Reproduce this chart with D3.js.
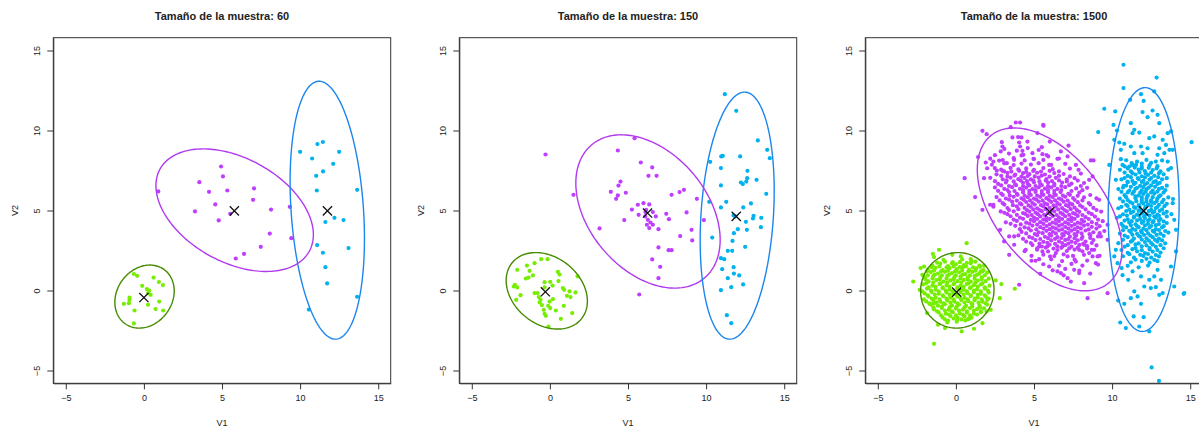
<!DOCTYPE html>
<html><head><meta charset="utf-8">
<script src="https://cdn.jsdelivr.net/npm/d3@7"></script>
<style>
body{margin:0;background:#fff}
svg{display:block}
text{font-family:"Liberation Sans",Arial,sans-serif;fill:#222}
</style>
</head><body>
<svg id="chart" width="1199" height="428"></svg>
<script>
// ---- data ----
const sampleSizes = [60, 150, 1500];
const tickValues = [-5, 0, 5, 10, 15];
const xLabel = "V1", yLabel = "V2";

// sample of 60
const green1 = [[-0.64,1.03],[-0.43,0.92],[0.62,0.81],[0.96,0.53],[1.22,0.34],[-0.11,0.29],[0.19,0.09],[0.34,0.0],[0.43,-0.27],[0.28,-0.16],[-0.92,-0.44],[-0.92,-0.58],[-0.96,-0.79],[-1.28,-0.83],[0.26,-0.89],[0.98,-0.69],[-0.6,-1.25],[0.75,-1.16],[1.24,-1.25],[-0.64,-2.06]];
const purple1 = [[0.92,6.19],[3.55,6.77],[4.94,7.75],[5.06,7.13],[4.17,6.17],[5.34,6.25],[7.05,6.38],[6.99,5.67],[4.57,5.38],[3.27,4.94],[4.79,4.38],[5.53,4.79],[8.14,5.06],[9.34,5.23],[8.06,3.56],[9.44,3.27],[7.48,2.73],[6.41,2.29],[5.88,2.0]];
const blue1 = [[11.11,9.15],[11.46,9.28],[10.0,8.67],[12.5,8.67],[10.77,8.25],[12.12,7.92],[11.47,7.44],[11.03,7.17],[11.07,6.25],[13.65,6.29],[11.62,4.28],[12.2,4.54],[12.78,4.4],[11.09,2.84],[11.46,2.36],[13.1,2.65],[11.62,1.46],[11.73,0.44],[13.65,-0.39],[10.56,-1.19]];
const centers1 = [[0.0,-0.44],[5.79,4.98],[11.75,4.98]];
// ellipse: [cx, cy, half-width, half-height, correlation]
const ellipses1 = [[0.04,-0.38,1.9,1.97,0.18],[5.81,5.02,5.04,3.83,-0.40],[11.74,5.02,2.38,8.06,-0.22]];

// sample of 150
const green2 = [[-0.56,1.96],[-0.15,1.96],[-0.98,1.71],[-1.47,1.56],[-2.09,1.29],[-1.30,1.23],[-1.09,0.94],[-1.54,0.75],[-1.37,0.81],[0.51,1.17],[0.62,1.0],[1.77,0.88],[-0.34,0.52],[0.02,0.54],[0.55,0.59],[0.17,0.31],[-2.24,0.36],[-2.09,0.19],[-2.31,0.25],[-0.34,0.19],[0.83,0.15],[0.91,0.04],[1.26,-0.06],[1.64,-0.12],[1.32,-0.41],[1.09,-0.33],[-1.88,-0.29],[-2.16,-0.58],[-0.79,-0.16],[-0.71,-0.41],[-0.6,-0.58],[-0.66,-0.75],[-0.51,-0.91],[0.19,-0.54],[-0.02,-0.69],[-0.11,-0.96],[0.02,-1.1],[-0.39,-1.21],[-0.34,-1.46],[-0.26,-1.58],[0.38,-1.25],[0.89,-0.96],[0.70,-1.77],[1.43,-1.41],[-0.09,-2.25],[-0.98,-0.16]];
const purple2 = [[5.42,9.52],[4.35,8.75],[5.82,8.0],[6.55,7.69],[6.31,7.17],[6.83,7.17],[4.52,6.81],[4.39,6.56],[3.90,6.17],[4.86,6.11],[4.35,5.94],[4.24,5.73],[1.51,5.98],[7.79,5.98],[8.30,6.15],[8.58,6.29],[9.41,5.73],[5.99,5.46],[5.63,5.36],[6.36,5.38],[5.25,5.06],[5.68,4.73],[6.12,4.90],[6.59,4.90],[6.78,4.63],[7.45,4.79],[7.62,4.46],[8.75,4.88],[4.76,4.40],[6.27,4.42],[6.44,4.25],[6.21,4.11],[6.59,4.11],[6.95,3.83],[6.36,3.90],[3.18,3.88],[8.34,3.40],[9.07,3.79],[9.11,3.13],[9.86,4.40],[6.95,2.69],[7.60,2.52],[7.79,2.52],[6.55,1.94],[7.06,1.48],[6.95,0.77],[5.72,-0.25],[-0.28,8.5],[6.16,5.04],[6.10,4.63]];
const blue2 = [[11.2,12.27],[11.93,11.23],[13.31,9.38],[13.91,8.79],[14.08,8.27],[10.26,8.04],[10.97,8.38],[11.07,8.42],[12.18,8.38],[10.95,7.65],[12.65,7.48],[12.63,7.02],[12.57,6.81],[12.23,6.75],[12.35,6.65],[13.23,6.92],[10.95,6.57],[13.85,6.04],[11.29,5.54],[10.95,5.19],[10.2,5.54],[12.38,5.19],[12.87,5.44],[11.76,4.69],[13.04,4.67],[13.0,4.5],[13.53,4.54],[12.55,4.29],[12.03,3.83],[12.61,3.79],[13.51,3.96],[11.78,3.58],[10.39,3.31],[11.69,3.10],[12.5,2.73],[11.39,2.48],[11.67,2.48],[10.95,2.02],[11.16,1.96],[11.03,1.33],[11.76,1.46],[11.78,1.06],[12.12,0.94],[11.39,0.77],[11.61,0.21],[12.37,0.38],[10.95,0.02],[11.33,-1.54],[11.61,-2.04],[11.86,4.63]];
const centers2 = [[-0.29,-0.08],[6.25,4.84],[11.93,4.63]];
const ellipses2 = [[-0.2,-0.02,2.6,2.39,-0.27],[6.28,4.94,4.62,4.79,-0.37],[11.99,4.68,2.37,7.72,0.2]];

// sample of 1500
const green3 = [[0.69,2.96],[-1.47,2.29],[-1.08,2.54],[-1.40,2.09],[-2.26,1.40],[-2.73,0.56],[-2.32,0.04],[2.91,0.40],[2.81,-0.48],[3.77,0.11],[2.23,-1.21],[-1.85,-1.41],[-1.66,-0.85],[-1.40,-0.79],[0.37,-2.56],[1.16,-2.39],[-1.40,-3.33],[-0.70,-2.35],[-1.15,-2.14],[1.97,-1.31],[2.55,0.63],[1.59,1.19],[1.70,-2.04],[-2.04,1.50],[-2.15,0.98],[1.80,1.54],[2.01,-0.58],[-0.23,2.23],[0.31,2.13],[0.95,1.96],[-0.55,-2.0],[0.09,-1.83],[0.78,-1.79],
[-0.8,1.92],[-0.2,1.78],[0.4,1.95],[1.0,1.83],
[-1.5,1.55],[-1.0,1.68],[-0.5,1.52],[0.0,1.64],[0.5,1.58],[0.95,1.7],[1.5,1.55],
[-1.8,1.3],[-1.3,1.42],[-0.85,1.28],[-0.4,1.4],[0.05,1.33],[0.45,1.45],[0.85,1.3],[1.3,1.38],[1.75,1.27],
[-1.6,1.15],[-1.15,1.05],[-0.7,1.17],[-0.25,1.08],[0.2,1.14],[0.6,1.02],[1.05,1.16],[1.5,1.06],[2.0,1.12],
[-2.0,0.82],[-1.45,0.9],[-1.0,0.8],[-0.55,0.92],[-0.1,0.83],[0.3,0.88],[0.75,0.79],[1.2,0.9],[1.65,0.82],
[-1.75,0.57],[-1.25,0.65],[-0.8,0.55],[-0.35,0.63],[0.1,0.58],[0.5,0.66],[0.95,0.55],[1.4,0.62],[1.9,0.58],
[-2.1,0.38],[-1.5,0.3],[-1.05,0.4],[-0.6,0.32],[-0.15,0.39],[0.3,0.3],[0.7,0.41],[1.15,0.33],[1.6,0.38],[2.15,0.3],
[-1.85,0.12],[-1.3,0.05],[-0.85,0.14],[-0.4,0.06],[0.1,0.13],[0.5,0.04],[0.9,0.15],[1.35,0.07],[1.85,0.12],
[-2.0,-0.18],[-1.55,-0.1],[-1.1,-0.2],[-0.6,-0.12],[-0.15,-0.19],[0.3,-0.1],[0.75,-0.17],[1.15,-0.11],[1.6,-0.2],[2.1,-0.13],
[-1.75,-0.37],[-1.3,-0.45],[-0.8,-0.36],[-0.35,-0.44],[0.1,-0.38],[0.55,-0.46],[0.95,-0.35],[1.4,-0.43],[1.9,-0.38],
[-1.9,-0.68],[-1.45,-0.6],[-1.0,-0.7],[-0.55,-0.62],[-0.1,-0.69],[0.35,-0.6],[0.8,-0.67],[1.2,-0.61],[1.7,-0.7],
[-1.6,-0.87],[-1.15,-0.95],[-0.7,-0.86],[-0.25,-0.94],[0.2,-0.88],[0.65,-0.96],[1.05,-0.85],[1.5,-0.93],[2.0,-0.88],
[-1.4,-1.18],[-0.9,-1.1],[-0.45,-1.2],[0.0,-1.12],[0.45,-1.19],[0.9,-1.1],[1.35,-1.17],[1.8,-1.12],
[-1.1,-1.37],[-0.65,-1.45],[-0.2,-1.36],[0.25,-1.44],[0.7,-1.38],[1.15,-1.45],[1.6,-1.36],
[-0.85,-1.68],[-0.35,-1.6],[0.1,-1.7],[0.55,-1.62],[1.0,-1.69],
[-0.5,-1.88],[0.05,-1.95],[0.6,-1.87],
[-1.2,1.74],[-0.7,1.8],[-0.25,1.7],[0.25,1.77],[0.7,1.73],[1.25,1.8],
[-1.55,1.45],[-1.05,1.5],[-0.6,1.44],[-0.15,1.5],[0.25,1.46],[0.65,1.51],[1.1,1.44],[1.55,1.48],
[-1.85,1.2],[-1.4,1.25],[-0.95,1.2],[-0.5,1.24],[-0.05,1.19],[0.4,1.25],[0.8,1.2],[1.25,1.24],[1.7,1.19],
[-1.8,0.95],[-1.35,1.0],[-0.9,0.94],[-0.45,0.99],[0.0,0.95],[0.45,1.0],[0.9,0.94],[1.35,0.98],[1.85,0.95],
[-1.95,0.7],[-1.5,0.75],[-1.05,0.69],[-0.6,0.74],[-0.15,0.7],[0.3,0.75],[0.75,0.69],[1.2,0.74],[1.65,0.7],[2.1,0.74],
[-1.9,0.45],[-1.45,0.5],[-1.0,0.44],[-0.55,0.49],[-0.1,0.45],[0.35,0.5],[0.8,0.44],[1.25,0.49],[1.7,0.45],
[-1.75,0.2],[-1.3,0.25],[-0.85,0.19],[-0.4,0.24],[0.1,0.2],[0.5,0.25],[0.95,0.19],[1.4,0.24],[1.85,0.2],
[-2.15,-0.05],[-1.6,0.0],[-1.1,-0.06],[-0.65,-0.01],[-0.2,-0.05],[0.3,0.0],[0.7,-0.06],[1.15,-0.01],[1.6,-0.05],[2.05,0.0],
[-1.8,-0.3],[-1.35,-0.25],[-0.85,-0.31],[-0.4,-0.26],[0.05,-0.3],[0.5,-0.25],[0.95,-0.31],[1.4,-0.26],[1.85,-0.3],
[-2.05,-0.55],[-1.55,-0.5],[-1.05,-0.56],[-0.6,-0.51],[-0.15,-0.55],[0.3,-0.5],[0.75,-0.56],[1.2,-0.51],[1.65,-0.55],[2.1,-0.5],
[-1.7,-0.8],[-1.25,-0.75],[-0.8,-0.81],[-0.35,-0.76],[0.1,-0.8],[0.55,-0.75],[1.0,-0.81],[1.45,-0.76],[1.9,-0.8],
[-1.45,-1.05],[-0.9,-1.0],[-0.4,-1.06],[0.05,-1.01],[0.55,-1.05],[1.05,-1.0],[1.55,-1.06],
[-1.2,-1.3],[-0.7,-1.25],[-0.25,-1.31],[0.2,-1.26],[0.7,-1.3],[1.15,-1.25],[1.6,-1.3],
[-0.95,-1.55],[-0.45,-1.5],[0.0,-1.56],[0.45,-1.51],[0.9,-1.55],[1.35,-1.5],
[-0.7,-1.8],[-0.15,-1.75],[0.35,-1.81],[0.85,-1.76]];
const purple3 = [[3.83,10.5],[4.11,10.5],[5.59,10.36],[1.70,9.98],[1.97,9.77],[3.51,10.21],[3.98,9.59],[3.62,9.57],[4.20,9.57],[2.94,9.27],[4.05,9.25],[4.58,9.31],[5.22,9.84],[6.01,9.31],[2.98,9.0],[4.11,9.0],[2.87,8.69],[4.26,8.73],[5.50,8.96],[7.21,9.06],[6.72,8.69],[4.32,8.48],[5.54,8.52],[5.91,8.38],[4.97,8.23],[6.50,8.23],[7.15,8.38],[8.64,8.13],[1.42,8.34],[1.91,8.0],[2.40,8.06],[2.77,8.12],[3.26,7.96],[3.73,8.17],[5.97,7.85],[7.68,7.85],[7.85,7.54],[2.49,7.65],[3.09,7.44],[2.62,7.50],[0.56,7.02],[1.80,7.02],[8.53,6.92],[8.75,7.13],[1.23,5.84],[1.70,5.04],[2.19,5.36],[2.40,5.36],[9.17,5.67],[2.87,4.94],[9.71,4.11],[9.71,3.17],[9.28,3.38],[9.07,2.13],[8.96,1.71],[8.21,2.86],[3.41,3.38],[3.09,3.07],[3.73,3.38],[2.83,3.79],[3.73,2.86],[3.41,2.23],[4.47,2.54],[4.84,2.17],[4.84,1.86],[5.33,1.96],[6.03,2.13],[5.97,1.50],[6.50,1.19],[6.72,1.09],[7.15,0.77],[7.36,0.56],[7.89,1.09],[7.57,1.29],[8.21,0.46],[8.43,-0.48],[9.71,-0.17],[4.05,0.36],[5.86,2.75],[7.15,2.13],[7.68,1.81],[7.89,2.54],[8.53,2.34],[8.75,2.13],[8.85,2.54],[5.33,2.75],[5.54,2.44],[6.40,2.34],[6.82,2.75],[5.61,10.29],[8.81,8.13],
[3.1,8.85],[3.9,8.74],[4.6,8.9],[5.3,8.78],
[2.5,8.46],[3.4,8.56],[4.2,8.44],[4.9,8.58],[5.8,8.47],
[2.2,8.24],[3.0,8.15],[3.7,8.27],[4.4,8.13],[5.0,8.22],[5.6,8.16],[6.6,8.25],
[2.3,7.86],[3.1,7.95],[3.7,7.84],[4.2,7.93],[4.8,7.87],[5.3,7.96],[6.1,7.85],[7.0,7.92],
[2.0,7.64],[2.9,7.55],[3.5,7.66],[4.0,7.57],[4.5,7.63],[5.0,7.54],[5.6,7.65],[6.2,7.58],[7.3,7.62],
[2.6,7.26],[3.3,7.35],[3.8,7.24],[4.3,7.33],[4.7,7.27],[5.2,7.36],[5.7,7.25],[6.3,7.34],[6.9,7.28],[8.0,7.31],
[2.2,7.04],[3.0,6.95],[3.5,7.06],[4.0,6.96],[4.4,7.03],[4.8,6.94],[5.3,7.05],[5.8,6.97],[6.4,7.04],[7.1,6.95],[7.6,7.02],
[2.7,6.66],[3.2,6.75],[3.8,6.64],[4.3,6.73],[4.6,6.67],[5.0,6.76],[5.4,6.65],[5.9,6.74],[6.3,6.66],[6.8,6.75],[7.4,6.68],[8.2,6.72],
[2.5,6.44],[3.1,6.35],[3.6,6.46],[4.1,6.36],[4.5,6.43],[4.9,6.34],[5.3,6.45],[5.7,6.37],[6.1,6.44],[6.5,6.35],[7.0,6.46],[7.7,6.38],[8.4,6.42],
[2.9,6.06],[3.4,6.15],[3.9,6.04],[4.3,6.13],[4.7,6.07],[5.1,6.16],[5.5,6.05],[5.9,6.14],[6.3,6.06],[6.7,6.15],[7.2,6.04],[7.9,6.12],
[2.6,5.84],[3.2,5.75],[3.7,5.86],[4.2,5.76],[4.6,5.83],[5.0,5.74],[5.4,5.85],[5.8,5.77],[6.2,5.84],[6.6,5.75],[7.0,5.86],[7.5,5.78],[8.2,5.82],[9.0,5.76],
[3.0,5.46],[3.6,5.55],[4.1,5.44],[4.5,5.53],[4.9,5.47],[5.3,5.56],[5.7,5.45],[6.1,5.54],[6.5,5.46],[6.9,5.55],[7.3,5.44],[7.8,5.52],[8.5,5.47],
[2.4,5.24],[3.3,5.15],[3.9,5.26],[4.4,5.16],[4.8,5.23],[5.2,5.14],[5.6,5.25],[6.0,5.17],[6.4,5.24],[6.8,5.15],[7.2,5.26],[7.6,5.18],[8.1,5.22],[8.8,5.16],
[3.1,4.86],[3.7,4.95],[4.3,4.84],[4.7,4.93],[5.1,4.87],[5.5,4.96],[5.9,4.85],[6.3,4.94],[6.7,4.86],[7.1,4.95],[7.5,4.84],[7.9,4.92],[8.5,4.87],[9.3,4.93],
[3.5,4.64],[4.1,4.55],[4.6,4.66],[5.0,4.56],[5.4,4.63],[5.8,4.54],[6.2,4.65],[6.6,4.57],[7.0,4.64],[7.4,4.55],[7.8,4.66],[8.3,4.58],[8.9,4.62],
[3.2,4.26],[3.9,4.35],[4.5,4.24],[5.0,4.33],[5.4,4.27],[5.8,4.36],[6.2,4.25],[6.6,4.34],[7.0,4.26],[7.4,4.35],[7.8,4.24],[8.2,4.32],[8.7,4.27],[9.4,4.33],
[3.8,4.04],[4.4,3.95],[4.9,4.06],[5.4,3.96],[5.8,4.03],[6.2,3.94],[6.6,4.05],[7.0,3.97],[7.4,4.04],[7.8,3.95],[8.2,4.06],[8.7,3.98],[9.2,4.02],
[4.2,3.66],[4.8,3.75],[5.3,3.64],[5.8,3.73],[6.2,3.67],[6.6,3.76],[7.0,3.65],[7.4,3.74],[7.8,3.66],[8.3,3.75],[8.8,3.64],[9.5,3.72],
[4.0,3.44],[4.7,3.35],[5.2,3.46],[5.7,3.36],[6.1,3.43],[6.5,3.34],[6.9,3.45],[7.3,3.37],[7.7,3.44],[8.1,3.35],[8.6,3.46],[9.1,3.38],
[4.5,3.06],[5.1,3.15],[5.6,3.04],[6.1,3.13],[6.6,3.07],[7.0,3.16],[7.4,3.05],[7.8,3.14],[8.3,3.06],[8.8,3.15],
[4.9,2.84],[5.5,2.75],[6.0,2.86],[6.5,2.76],[7.0,2.83],[7.4,2.74],[7.9,2.85],[8.4,2.77],[9.0,2.82],
[4.4,2.46],[5.2,2.55],[5.9,2.44],[6.5,2.53],[7.1,2.47],[7.6,2.56],[8.1,2.45],[8.7,2.54],
[5.6,2.24],[6.3,2.15],[6.9,2.26],[7.5,2.16],[8.2,2.23],[9.2,2.17],
[5.1,1.86],[6.1,1.95],[6.8,1.84],[7.6,1.93],[8.4,1.87],
[5.6,1.64],[6.6,1.55],[7.4,1.66],[8.1,1.56],[9.1,1.62],
[6.2,1.26],[7.0,1.35],[7.9,1.24],
[5.4,1.04],[6.9,0.95],[8.6,1.06],
[3.0,7.47],[3.55,7.43],[4.05,7.48],[4.5,7.42],[4.95,7.47],[5.45,7.43],[6.0,7.48],[6.6,7.44],
[2.9,7.17],[3.3,7.13],[3.75,7.18],[4.2,7.12],[4.6,7.17],[5.05,7.13],[5.5,7.18],[6.0,7.12],[6.6,7.17],[7.3,7.13],
[2.5,6.83],[3.25,6.88],[3.7,6.82],[4.15,6.87],[4.55,6.83],[4.95,6.88],[5.35,6.82],[5.75,6.87],[6.15,6.83],[6.6,6.88],[7.1,6.82],[7.8,6.87],
[2.9,6.57],[3.4,6.53],[3.85,6.58],[4.3,6.52],[4.7,6.57],[5.1,6.53],[5.5,6.58],[5.9,6.52],[6.3,6.57],[6.75,6.53],[7.25,6.58],[8.0,6.53],
[2.7,6.23],[3.3,6.28],[3.75,6.22],[4.3,6.27],[4.7,6.23],[5.1,6.28],[5.5,6.22],[5.9,6.27],[6.3,6.23],[6.75,6.28],[7.4,6.22],[8.1,6.27],
[3.0,5.97],[3.45,5.93],[3.95,5.98],[4.4,5.92],[4.8,5.97],[5.2,5.93],[5.6,5.98],[6.0,5.92],[6.4,5.97],[6.85,5.93],[7.3,5.98],[7.8,5.92],[8.6,5.97],
[2.8,5.63],[3.4,5.68],[3.9,5.62],[4.35,5.67],[4.75,5.63],[5.15,5.68],[5.55,5.62],[5.95,5.67],[6.35,5.63],[6.75,5.68],[7.15,5.62],[7.6,5.67],[8.1,5.63],
[3.1,5.37],[3.65,5.33],[4.2,5.38],[4.65,5.32],[5.05,5.37],[5.45,5.33],[5.85,5.38],[6.25,5.32],[6.65,5.37],[7.05,5.33],[7.45,5.38],[7.95,5.32],[8.6,5.37],
[3.4,5.03],[4.0,5.08],[4.55,5.02],[4.95,5.07],[5.35,5.03],[5.75,5.08],[6.15,5.02],[6.55,5.07],[6.95,5.03],[7.35,5.08],[7.75,5.02],[8.3,5.07],[9.0,5.03],
[3.3,4.77],[3.9,4.73],[4.45,4.78],[4.85,4.72],[5.25,4.77],[5.65,4.73],[6.05,4.78],[6.45,4.72],[6.85,4.77],[7.25,4.73],[7.65,4.78],[8.1,4.72],[8.7,4.77],
[3.7,4.43],[4.3,4.48],[4.8,4.42],[5.2,4.47],[5.6,4.43],[6.0,4.48],[6.4,4.42],[6.8,4.47],[7.2,4.43],[7.6,4.48],[8.05,4.42],[8.5,4.47],[9.1,4.43],
[3.5,4.17],[4.15,4.13],[4.7,4.18],[5.2,4.12],[5.6,4.17],[6.0,4.13],[6.4,4.18],[6.8,4.12],[7.2,4.17],[7.6,4.13],[8.0,4.18],[8.45,4.12],[9.0,4.17],
[4.1,3.83],[4.65,3.88],[5.15,3.82],[5.6,3.87],[6.0,3.83],[6.4,3.88],[6.8,3.82],[7.2,3.87],[7.6,3.83],[8.0,3.88],[8.5,3.82],[9.0,3.87],
[4.5,3.57],[5.05,3.53],[5.55,3.58],[6.0,3.52],[6.4,3.57],[6.8,3.53],[7.2,3.58],[7.6,3.52],[8.05,3.57],[8.55,3.53],[9.2,3.58],
[4.3,3.23],[4.9,3.28],[5.4,3.22],[5.9,3.27],[6.35,3.23],[6.75,3.28],[7.2,3.22],[7.6,3.27],[8.05,3.23],[8.6,3.28],
[4.8,2.97],[5.35,2.93],[5.85,2.98],[6.35,2.92],[6.8,2.97],[7.2,2.93],[7.65,2.98],[8.15,2.92],[8.7,2.97],
[5.2,2.63],[5.75,2.68],[6.25,2.62],[6.75,2.67],[7.25,2.63],[7.8,2.68],[8.4,2.62]];
const blue3 = [[10.73,14.11],[12.85,13.31],[10.73,12.65],[9.50,11.36],[10.2,11.19],[9.11,9.90],[15.09,9.27],[11.85,12.27],[12.02,11.85],[11.16,11.92],[12.70,12.44],[11.95,11.15],[12.59,11.25],[12.27,10.83],[11.20,10.46],[12.91,10.98],[13.02,10.46],[13.56,9.83],[13.77,9.94],[10.09,10.35],[10.31,10.0],[11.42,10.04],[11.31,9.83],[11.74,9.87],[12.70,9.63],[13.24,9.42],[12.38,9.52],[10.14,9.42],[10.46,9.25],[10.78,9.17],[11.20,9.0],[11.85,9.0],[12.27,8.89],[13.02,8.89],[13.45,9.10],[13.67,8.79],[13.88,8.79],[10.56,8.79],[11.42,8.58],[11.95,8.58],[12.91,8.48],[13.34,8.58],[9.82,7.85],[10.56,8.21],[10.67,7.85],[11.10,7.75],[11.53,7.85],[13.56,8.06],[13.77,7.65],[10.24,6.92],[10.74,6.54],[10.99,6.81],[13.88,5.46],[13.98,4.42],[14.09,3.79],[14.09,2.44],[13.77,1.50],[13.98,0.25],[14.58,-0.21],[10.67,0.96],[11.03,0.67],[10.39,-0.63],[10.78,-0.83],[11.20,-0.48],[11.85,-0.83],[11.42,-0.06],[12.06,0.25],[12.48,0.15],[12.80,0.21],[13.02,-0.27],[13.24,-0.16],[11.63,-0.37],[10.52,-2.0],[10.88,-2.35],[11.38,-1.62],[11.74,-2.25],[12.02,-1.67],[12.38,-2.56],[12.53,-4.81],[13.0,-5.65],[10.14,2.13],[10.24,2.54],[10.35,1.71],[10.61,1.40],[13.13,0.67],[12.70,0.88],[12.91,1.29],[12.38,0.67],[11.85,0.88],[11.31,1.19],[14.62,-0.16],
[10.9,8.14],[11.6,8.05],[12.2,8.16],[12.8,8.06],[13.2,8.13],
[10.8,7.76],[11.3,7.85],[11.9,7.74],[12.4,7.83],[12.9,7.77],
[10.5,7.54],[11.2,7.45],[11.7,7.56],[12.1,7.46],[12.6,7.53],[13.1,7.44],[13.6,7.55],
[11.0,7.16],[11.5,7.25],[11.9,7.14],[12.3,7.23],[12.7,7.17],[13.3,7.26],
[10.6,6.94],[11.3,6.85],[11.7,6.96],[12.0,6.86],[12.4,6.93],[12.8,6.84],[13.2,6.95],
[10.9,6.56],[11.4,6.65],[11.8,6.54],[12.1,6.63],[12.5,6.57],[12.9,6.66],[13.5,6.55],
[10.4,6.34],[11.1,6.25],[11.5,6.36],[11.9,6.26],[12.2,6.33],[12.6,6.24],[13.0,6.35],[13.4,6.27],
[10.8,5.96],[11.3,6.05],[11.7,5.94],[12.0,6.03],[12.3,5.97],[12.7,6.06],[13.1,5.95],
[10.5,5.74],[11.0,5.65],[11.5,5.76],[11.9,5.66],[12.2,5.73],[12.5,5.64],[12.9,5.75],[13.3,5.67],[13.9,5.72],
[10.9,5.36],[11.3,5.45],[11.7,5.34],[12.0,5.43],[12.3,5.37],[12.7,5.46],[13.0,5.35],[13.5,5.42],
[10.4,5.14],[11.1,5.05],[11.5,5.16],[11.8,5.06],[12.1,5.13],[12.5,5.04],[12.8,5.15],[13.2,5.07],
[10.7,4.76],[11.2,4.85],[11.6,4.74],[11.9,4.83],[12.2,4.77],[12.6,4.86],[12.9,4.75],[13.3,4.82],[13.8,4.77],
[10.3,4.54],[11.0,4.45],[11.4,4.56],[11.8,4.46],[12.1,4.53],[12.4,4.44],[12.8,4.55],[13.1,4.47],
[10.6,4.16],[11.1,4.25],[11.5,4.14],[11.9,4.23],[12.3,4.17],[12.6,4.26],[13.0,4.15],[13.5,4.22],
[10.9,3.94],[11.3,3.85],[11.7,3.96],[12.0,3.86],[12.4,3.93],[12.8,3.84],[13.2,3.95],
[10.5,3.56],[11.2,3.65],[11.6,3.54],[11.9,3.63],[12.3,3.57],[12.7,3.66],[13.1,3.55],[13.6,3.62],
[11.0,3.34],[11.4,3.25],[11.8,3.36],[12.2,3.26],[12.6,3.33],[13.0,3.24],
[10.4,2.96],[11.2,3.05],[11.7,2.94],[12.1,3.03],[12.5,2.97],[12.9,3.06],[13.4,2.95],
[10.8,2.74],[11.5,2.65],[11.9,2.76],[12.4,2.66],[12.8,2.73],[13.3,2.64],
[11.0,2.36],[11.6,2.45],[12.1,2.34],[12.6,2.43],[13.1,2.37],
[10.7,2.14],[11.4,2.05],[12.0,2.16],[12.5,2.06],[13.0,2.13],
[11.2,1.76],[11.9,1.85],[12.4,1.74],[12.9,1.83],
[11.0,1.54],[11.7,1.45],[12.3,1.56],
[11.25,7.97],[11.9,7.93],[12.5,7.98],
[11.0,7.63],[11.45,7.68],[11.9,7.62],[12.35,7.67],[12.85,7.63],
[10.8,7.37],[11.3,7.33],[11.75,7.38],[12.15,7.32],[12.5,7.37],[13.0,7.33],
[10.8,7.03],[11.2,7.08],[11.65,7.02],[12.1,7.07],[12.5,7.03],[12.95,7.08],[13.5,7.02],
[11.0,6.77],[11.5,6.73],[11.9,6.78],[12.25,6.72],[12.65,6.77],[13.05,6.73],
[10.7,6.43],[11.2,6.48],[11.6,6.42],[12.0,6.47],[12.35,6.43],[12.75,6.48],[13.2,6.42],
[10.6,6.17],[11.0,6.13],[11.4,6.18],[11.8,6.12],[12.15,6.17],[12.5,6.13],[12.9,6.18],[13.3,6.12],
[10.9,5.83],[11.5,5.88],[11.9,5.82],[12.25,5.87],[12.6,5.83],[13.0,5.88],[13.6,5.82],
[10.7,5.57],[11.15,5.53],[11.55,5.58],[11.9,5.52],[12.2,5.57],[12.5,5.53],[12.85,5.58],[13.2,5.52],
[10.6,5.23],[11.0,5.28],[11.4,5.22],[11.75,5.27],[12.15,5.23],[12.5,5.28],[12.9,5.22],[13.35,5.27],
[10.9,4.97],[11.35,4.93],[11.7,4.98],[12.0,4.92],[12.35,4.97],[12.7,4.93],[13.05,4.98],[13.5,4.92],
[10.5,4.63],[10.95,4.68],[11.4,4.62],[11.75,4.67],[12.05,4.63],[12.4,4.68],[12.7,4.62],[13.0,4.67],[13.5,4.63],
[10.8,4.37],[11.25,4.33],[11.6,4.38],[12.0,4.32],[12.3,4.37],[12.65,4.33],[13.0,4.38],[13.3,4.32],
[10.7,4.03],[11.2,4.08],[11.6,4.02],[12.1,4.07],[12.5,4.03],[12.8,4.08],[13.3,4.02],
[10.7,3.77],[11.1,3.73],[11.5,3.78],[11.85,3.72],[12.2,3.77],[12.6,3.73],[13.0,3.78],[13.4,3.72],
[10.8,3.43],[11.3,3.48],[11.7,3.42],[12.05,3.47],[12.45,3.43],[12.85,3.48],[13.3,3.42],
[10.7,3.17],[11.3,3.13],[11.9,3.18],[12.35,3.12],[12.75,3.17],[13.2,3.13],
[11.0,2.83],[11.5,2.88],[12.2,2.82],[12.6,2.87],[13.1,2.83],
[10.6,2.53],[11.3,2.58],[11.9,2.52],[12.4,2.57],[12.9,2.53],
[11.1,2.27],[11.8,2.23],[12.3,2.28],[12.8,2.22],
[11.5,1.93],[12.2,1.98],[12.7,1.92]];
const centers3 = [[0.05,-0.1],[6.01,4.92],[12.02,4.98]];
const ellipses3 = [[0.09,0.01,2.35,2.36,0.02],[6.0,5.07,4.63,5.09,-0.49],[12.02,5.06,2.27,7.62,0.04]];

const pointColors = ["#76EE00", "#BF3EFF", "#00B2EE"];
const ellipseColors = ["#458B00", "#B23AEE", "#1C86EE"];

const panels = [
  {n: sampleSizes[0], groups: [green1, purple1, blue1], centers: centers1, ellipses: ellipses1},
  {n: sampleSizes[1], groups: [green2, purple2, blue2], centers: centers2, ellipses: ellipses2},
  {n: sampleSizes[2], groups: [green3, purple3, blue3], centers: centers3, ellipses: ellipses3}
];

// ---- layout ----
const svg = d3.select("#chart");
const boxLefts = [53.3, 459.3, 865.3];
const boxW = 337.4, boxTop = 37.7, boxBottom = 383.3;
const domain = [-5.8, 15.8];

panels.forEach((p, i) => {
  const x = d3.scaleLinear().domain(domain).range([boxLefts[i], boxLefts[i] + boxW]);
  const y = d3.scaleLinear().domain(domain).range([boxBottom, boxTop]);
  const g = svg.append("g");

  // points
  p.groups.forEach((pts, k) => {
    g.append("g").selectAll("circle").data(pts).join("circle")
      .attr("cx", d => x(d[0])).attr("cy", d => y(d[1]))
      .attr("r", 2.1).attr("fill", pointColors[k]);
  });

  // ellipses
  const line = d3.line().x(d => x(d[0])).y(d => y(d[1])).curve(d3.curveLinearClosed);
  p.ellipses.forEach((e, k) => {
    const [cx, cy, w, h, r] = e;
    const s = Math.sqrt(1 - r * r);
    const pts = d3.range(0, 2 * Math.PI, Math.PI / 90).map(t =>
      [cx + w * Math.cos(t), cy + h * (r * Math.cos(t) + s * Math.sin(t))]);
    g.append("path").attr("d", line(pts)).attr("fill", "none")
      .attr("stroke", ellipseColors[k]).attr("stroke-width", 1.4);
  });

  // cluster centres
  p.centers.forEach(c => {
    const cx = x(c[0]), cy = y(c[1]), a = 4.6;
    g.append("path")
      .attr("d", `M${cx - a},${cy - a}L${cx + a},${cy + a}M${cx - a},${cy + a}L${cx + a},${cy - a}`)
      .attr("stroke", "#111").attr("stroke-width", 1.3).attr("fill", "none");
  });

  // box
  g.append("rect").attr("x", boxLefts[i]).attr("y", boxTop)
    .attr("width", boxW).attr("height", boxBottom - boxTop)
    .attr("fill", "none").attr("stroke", "#333").attr("stroke-width", 1);

  // axes
  const xAxis = d3.axisBottom(x).tickValues(tickValues).tickSize(6).tickPadding(4).tickSizeOuter(0);
  const gx = g.append("g").attr("transform", `translate(0,${boxBottom})`).call(xAxis);
  gx.select(".domain").attr("stroke", "#333");
  gx.selectAll(".tick line").attr("stroke", "#333");
  gx.selectAll("text").attr("font-size", 9).attr("fill", "#222").attr("dy", "0.9em");

  const yAxis = d3.axisLeft(y).tickValues(tickValues).tickSize(6).tickPadding(4).tickSizeOuter(0);
  const gy = g.append("g").attr("transform", `translate(${boxLefts[i]},0)`).call(yAxis);
  gy.select(".domain").attr("stroke", "#333");
  gy.selectAll(".tick line").attr("stroke", "#333");
  gy.selectAll("text").attr("font-size", 9).attr("fill", "#222")
    .attr("x", 0).attr("dy", 0).attr("text-anchor", "middle")
    .attr("transform", "translate(-16.6,0) rotate(-90)").attr("dominant-baseline", "central");

  // titles
  g.append("text").attr("x", boxLefts[i] + boxW / 2).attr("y", 20)
    .attr("text-anchor", "middle").attr("font-size", 11).attr("font-weight", "bold")
    .text(`Tamaño de la muestra: ${p.n}`);
  g.append("text").attr("x", boxLefts[i] + boxW / 2).attr("y", 426)
    .attr("text-anchor", "middle").attr("font-size", 9).text(xLabel);
  g.append("text").attr("transform", `translate(${boxLefts[i] - 38.5},${(boxTop + boxBottom) / 2}) rotate(-90)`)
    .attr("text-anchor", "middle").attr("dominant-baseline", "central").attr("font-size", 9).text(yLabel);
});
</script>
</body></html>
